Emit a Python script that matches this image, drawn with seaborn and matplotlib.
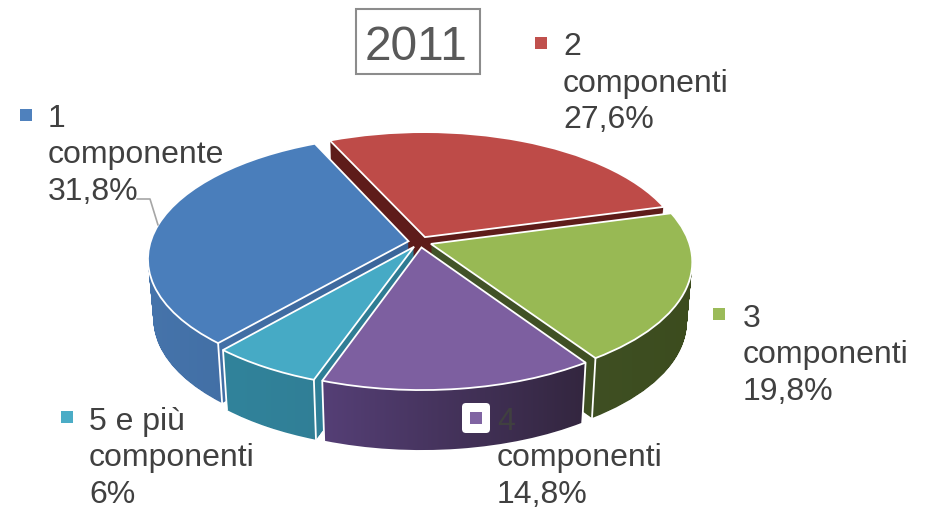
import numpy as np
import matplotlib
matplotlib.use("Agg")
import matplotlib.pyplot as plt
import matplotlib.transforms as mtransforms
from matplotlib.colors import LinearSegmentedColormap
from matplotlib.patches import FancyBboxPatch, Rectangle
from matplotlib.path import Path
import seaborn as sns

shares = [31.8, 27.6, 19.8, 14.8, 6.0]
first_lines = ["1", "2", "3", "4", "5 e più"]
second_lines = ["componente", "componenti", "componenti", "componenti", "componenti"]
third_lines = ["31,8%", "27,6%", "19,8%", "14,8%", "6%"]
title = "2011"

top_colors = ["#4a7ebb", "#be4b48", "#98b954", "#7d5fa0", "#46aac5"]
key_colors = ["#4f81bd", "#c0504d", "#9bbb59", "#8064a2", "#4bacc6"]
side_left = ["#4674ab", "#5e1c1a", "#43542a", "#553f76", "#31839b"]
side_right = ["#3a6599", "#5e1c1a", "#3c4c1e", "#33263f", "#2f7b92"]

# label layout in pixels: text x, three baselines, key x, key y
text_x = [48, 563, 743, 497, 89]
base_y = [(127, 163, 200), (55, 92, 128), (327, 363, 400), (430, 466, 503), (430, 466, 503)]
key_xy = [(26, 115), (541, 43), (719, 314), (476, 418), (67, 417)]

CX, CY = 420, 242
RX, RY, TILT = 258, 121, 0.14
DEPTH = 60
LAYERS = 60


class Tilt(mtransforms.Transform):
    # unit pie -> tilted pie in pixel coords, with a bit of perspective
    input_dims = output_dims = 2

    def __init__(self, drop=0.0):
        super().__init__()
        self.drop = drop

    def transform_non_affine(self, xy):
        xy = np.asarray(xy, dtype=float)
        x, y = xy[:, 0], xy[:, 1]
        w = 1 + TILT * y
        shrink = 1 - 0.02 * self.drop
        return np.column_stack([CX + shrink * RX * x / w,
                                CY - RY * y / w + DEPTH * self.drop])


sns.set_theme(style="white")
plt.rcParams["font.family"] = ["Liberation Sans", "DejaVu Sans"]

fig = plt.figure(figsize=(9.28, 5.09), dpi=100)
ax = fig.add_axes([0, 0, 1, 1])

wedges, _ = ax.pie(shares, colors=sns.color_palette(top_colors), startangle=229, counterclock=False,
                   explode=[0.045] * 5, radius=1,
                   wedgeprops={"edgecolor": "white", "linewidth": 1.3, "zorder": 5})
ax.set_aspect("auto")
ax.set_axis_off()
for w in wedges:
    w.set_transform(Tilt(0.0) + ax.transData)

# side walls, back slices first
for order, i in enumerate([1, 0, 2, 4, 3]):
    path = wedges[i].get_path()
    stack = [Tilt(k / (LAYERS - 1)).transform_path(path) for k in range(LAYERS)]
    wall = Path.make_compound_path(*stack)
    x0, y0 = wall.vertices.min(axis=0)
    x1, y1 = wall.vertices.max(axis=0)
    cmap = LinearSegmentedColormap.from_list("side", [side_left[i], side_right[i]])
    im = ax.imshow(np.linspace(0, 1, 256).reshape(1, -1), cmap=cmap, aspect="auto",
                   extent=(x0, x1, y1, y0), zorder=2 + order * 0.1)
    im.set_clip_path(wall, transform=ax.transData)

    # white edge on the front corners of each slice
    for theta in (wedges[i].theta1, wedges[i].theta2):
        if np.sin(np.radians(theta)) < -0.2:
            corner = np.array([[wedges[i].center[0] + np.cos(np.radians(theta)),
                                wedges[i].center[1] + np.sin(np.radians(theta))]])
            p0 = Tilt(0.0).transform(corner)[0]
            p1 = Tilt(1.0).transform(corner)[0]
            ax.plot([p0[0], p1[0]], [p0[1], p1[1]], color="white", lw=1.3, zorder=3)

ax.set_xlim(0, 928)
ax.set_ylim(509, 0)

# title with frame
ax.add_patch(Rectangle((356.5, 8.5), 124, 65, facecolor="white", edgecolor="#8c8c8c", lw=1.5, zorder=6))
ax.text(416, 60, title, fontsize=34.5, color="#595959", ha="center", va="baseline", zorder=7)

# white box behind key of label 4
ax.add_patch(FancyBboxPatch((465, 406), 22, 24, boxstyle="round,pad=3,rounding_size=4",
                            facecolor="white", edgecolor="none", zorder=6))

for i in range(len(shares)):
    ax.plot(*key_xy[i], marker="s", ms=8.5, color=key_colors[i], mew=0, zorder=7)
    for line, y in zip((first_lines[i], second_lines[i], third_lines[i]), base_y[i]):
        ax.text(text_x[i], y, line, fontsize=23, color="#404040", va="baseline", zorder=7)

# leader line of the first label
ax.plot([137, 150, 158], [199, 199, 225], color="#a6a6a6", lw=1.2, zorder=6)

fig.savefig("out.png", dpi=100)
